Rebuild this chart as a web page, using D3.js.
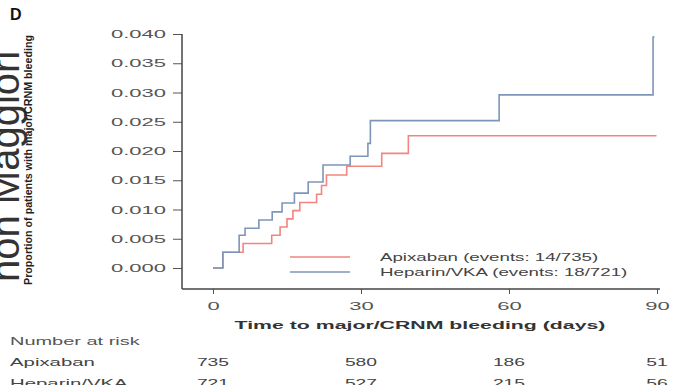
<!DOCTYPE html>
<html>
<head>
<meta charset="utf-8">
<script src="https://cdn.jsdelivr.net/npm/d3@7"></script>
<style>
  body { margin: 0; background: #fff; }
  svg { display: block; font-family: "Liberation Sans", Arial, sans-serif; }
</style>
</head>
<body>
<div id="km"></div>
<script>
// values
var xTicks = [0, 30, 60, 90];
var yTicks = [0, 0.005, 0.010, 0.015, 0.020, 0.025, 0.030, 0.035, 0.040];

var apixabanDays = [0, 2.0, 6.1, 11.9, 13.6, 15.0, 16.2, 17.6, 21.0, 22.0, 23.0, 27.1, 34.2, 39.6, 89.9];
var apixabanRisk = [0, 0.0027, 0.0042, 0.0056, 0.0070, 0.0084, 0.0098, 0.0112, 0.0126, 0.0141, 0.0159, 0.0174, 0.0196, 0.0226, 0.0226];

var heparinDays = [0, 2.0, 5.3, 6.5, 9.3, 12.0, 14.0, 16.5, 19.3, 22.3, 27.8, 31.4, 31.9, 58.0, 89.2, 89.5];
var heparinRisk = [0, 0.0027, 0.0056, 0.0068, 0.0082, 0.0096, 0.0111, 0.0128, 0.0147, 0.0176, 0.0191, 0.0213, 0.0252, 0.0296, 0.0395, 0.0395];

var legendLabels = ["Apixaban (events: 14/735)", "Heparin/VKA (events: 18/721)"];
var riskGroups = ["Apixaban", "Heparin/VKA"];
var riskApixaban = [735, 580, 186, 51];
var riskHeparin = [721, 527, 215, 56];

var width = 677, height = 385;
var red = "#f2857f", blue = "#7d95ba";

var svg = d3.select("#km").append("svg")
  .attr("width", width)
  .attr("height", height);

var x = d3.scaleLinear().domain([0, 90]).range([213, 657]);
var y = d3.scaleLinear().domain([0, 0.04]).range([268, 34]);

// stretch text horizontally like the source image
function stretch(sel, k) {
  sel.each(function () {
    var w = this.getComputedTextLength();
    d3.select(this).attr("textLength", w * k).attr("lengthAdjust", "spacingAndGlyphs");
  });
}

// big cut-off text at left edge
svg.append("text")
  .attr("transform", "translate(19,282) rotate(-90)")
  .attr("font-size", 40)
  .attr("fill", "#333")
  .text("non Maggiori");

svg.append("text")
  .attr("x", 10).attr("y", 20)
  .attr("font-size", 16).attr("font-weight", "bold")
  .attr("fill", "#111")
  .text("D");

svg.append("text")
  .attr("transform", "translate(32,160) rotate(-90)")
  .attr("text-anchor", "middle")
  .attr("font-family", "'Liberation Sans Narrow', 'Liberation Sans', sans-serif")
  .attr("font-size", 10).attr("font-weight", "bold")
  .attr("fill", "#222")
  .attr("textLength", 250).attr("lengthAdjust", "spacingAndGlyphs")
  .text("Proportion of patients with major/CRNM bleeding");

// y axis
var gy = svg.append("g")
  .attr("transform", "translate(182,0)")
  .call(d3.axisLeft(y).tickValues(yTicks).tickFormat(d3.format(".3f")).tickSize(9).tickPadding(7));
gy.select(".domain").remove();
gy.selectAll("line").attr("stroke", "#555");
gy.selectAll("text").attr("font-size", 11).attr("fill", "#555").attr("font-family", null);
stretch(gy.selectAll("text"), 2.0);
svg.append("line")
  .attr("x1", 182).attr("x2", 182).attr("y1", y(0.04)).attr("y2", 289)
  .attr("stroke", "#444").attr("stroke-width", 1.5);

// x axis
var gx = svg.append("g")
  .attr("transform", "translate(0,289)")
  .call(d3.axisBottom(x).tickValues(xTicks).tickSize(5).tickPadding(8));
gx.select(".domain").remove();
gx.selectAll("line").attr("stroke", "#555");
gx.selectAll("text").attr("font-size", 11).attr("fill", "#555").attr("font-family", null);
stretch(gx.selectAll("text"), 2.0);
svg.append("line")
  .attr("x1", 182).attr("x2", 660).attr("y1", 289).attr("y2", 289)
  .attr("stroke", "#444").attr("stroke-width", 1.5);

var xTitle = svg.append("text")
  .attr("x", 420).attr("y", 329)
  .attr("text-anchor", "middle")
  .attr("font-size", 11.5).attr("font-weight", "bold")
  .attr("fill", "#333")
  .text("Time to major/CRNM bleeding (days)");
stretch(xTitle, 1.85);

// KM curves
var line = d3.line()
  .x(function (d) { return x(d[0]); })
  .y(function (d) { return y(d[1]); })
  .curve(d3.curveStepAfter);

var series = [
  { color: red, pts: d3.zip(apixabanDays, apixabanRisk) },
  { color: blue, pts: d3.zip(heparinDays, heparinRisk) }
];

svg.selectAll(".km")
  .data(series)
  .enter().append("path")
  .attr("class", "km")
  .attr("d", function (d) { return line(d.pts); })
  .attr("fill", "none")
  .attr("stroke", function (d) { return d.color; })
  .attr("stroke-width", 1.6);

// legend
var leg = svg.selectAll(".leg")
  .data(legendLabels)
  .enter().append("g")
  .attr("class", "leg")
  .attr("transform", function (d, i) { return "translate(290," + (257 + i * 15) + ")"; });
leg.append("line")
  .attr("x1", 0).attr("x2", 60)
  .attr("stroke", function (d, i) { return i ? blue : red; })
  .attr("stroke-width", 1.6);
var legText = leg.append("text")
  .attr("x", 90).attr("y", 4)
  .attr("font-size", 10.5).attr("fill", "#444")
  .text(function (d) { return d; });
stretch(legText, 1.78);

// number at risk table
var nar = svg.append("text")
  .attr("x", 10).attr("y", 345)
  .attr("font-size", 10.5).attr("fill", "#555")
  .text("Number at risk");
stretch(nar, 1.9);

var rows = [riskApixaban, riskHeparin];
rows.forEach(function (vals, r) {
  var yy = 366 + r * 21;
  var lab = svg.append("text")
    .attr("x", 10).attr("y", yy)
    .attr("font-size", 11).attr("fill", "#444")
    .text(riskGroups[r]);
  stretch(lab, 1.85);
  var nums = svg.selectAll(".n" + r)
    .data(vals)
    .enter().append("text")
    .attr("class", "n" + r)
    .attr("x", function (d, i) { return x(xTicks[i]); })
    .attr("y", yy)
    .attr("text-anchor", "middle")
    .attr("font-size", 11).attr("fill", "#444")
    .text(function (d) { return d; });
  stretch(nums, 1.75);
});
</script>
</body>
</html>
